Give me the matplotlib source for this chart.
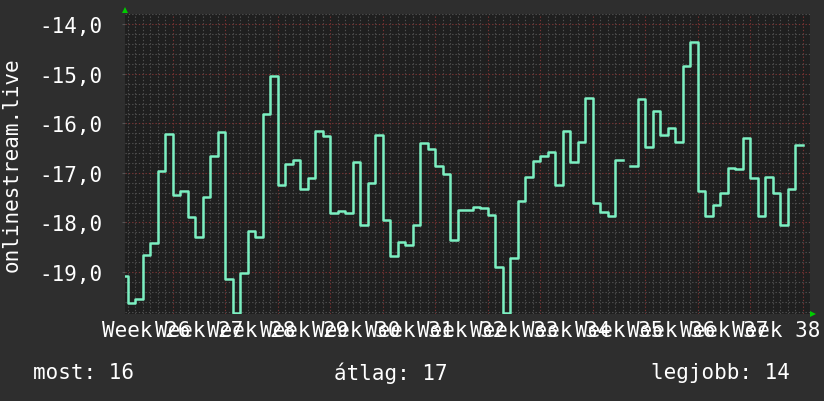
import matplotlib
matplotlib.use("Agg")
import matplotlib.pyplot as plt
import matplotlib.transforms as mtransforms
import numpy as np

# napi értékek, a 26. hét hétfőjétől (nan = hiányzó adat)
values = [-19.08, -19.62, -19.55, -18.65, -18.42, -16.96, -16.21,
          -17.45, -17.36, -17.90, -18.30, -17.48, -16.66, -16.17,
          -19.14, -19.82, -19.03, -18.17, -18.29, -15.82, -15.05,
          -17.25, -16.82, -16.74, -17.33, -17.10, -16.15, -16.25,
          -17.81, -17.77, -17.81, -16.77, -18.05, -17.21, -16.23,
          -17.95, -18.67, -18.40, -18.45, -18.05, -16.40, -16.52,
          -16.86, -17.02, -18.36, -17.75, -17.75, -17.69, -17.71,
          -17.85, -18.91, -19.82, -18.71, -17.57, -17.08, -16.75,
          -16.65, -16.57, -17.25, -16.15, -16.77, -16.37, -15.48,
          -17.60, -17.78, -17.87, -16.73, np.nan, -16.86, -15.50,
          -16.47, -15.74, -16.24, -16.09, -16.37, -14.84, -14.35,
          -17.37, -17.87, -17.64, -17.40, -16.90, -16.92, -16.29,
          -17.10, -17.87, -17.08, -17.40, -18.05, -17.33, -16.43]
weeks = list(range(26, 39))
ytick_vals = [-19.0, -18.0, -17.0, -16.0, -15.0, -14.0]
ylabel = "onlinestream.live"
legend_names = ["most", "átlag", "legjobb"]
legend_vals = [16, 17, 14]

BG = "#2e2e2e"
PLOT_BG = "#1f1f1f"
LINE = "#7cf0c2"
FONT = "DejaVu Sans Mono"

fig = plt.figure(figsize=(8.24, 4.02), dpi=100, facecolor=BG)
ax = fig.add_axes([125 / 824, 1 - 315 / 402, (809.5 - 125) / 824, 300 / 402])
ax.set_facecolor(PLOT_BG)

days = np.arange(len(values) + 1)
vals = np.array(values + [values[-1]])
ax.step(days, vals, where="post", color=LINE, lw=1.8, zorder=3)

ax.set_xlim(0.64, 91.88)
ax.set_ylim(-19.85, -13.79)

# rács
for d in range(0, 93):
    if d % 7 == 0:
        continue
    ax.axvline(d, color="#505050", lw=0.8, ls=(0, (1.2, 1.8)), zorder=1)
for w in range(0, 14):
    ax.axvline(7 * w, color="#7a3434", lw=0.8, ls=(0, (1.2, 1.8)), zorder=1)
for y in np.arange(-19.8, -13.7, 0.2):
    if abs(y - round(y)) < 1e-6:
        ax.axhline(y, color="#7a3434", lw=0.8, ls=(0, (1.2, 1.8)), zorder=1)
    else:
        ax.axhline(y, color="#505050", lw=0.8, ls=(0, (1.2, 1.8)), zorder=1)

for s in ax.spines.values():
    s.set_visible(False)

ax.set_yticks(ytick_vals)
ax.set_yticklabels([f"{v:.1f}".replace(".", ",") for v in ytick_vals],
                   fontfamily=FONT, fontsize=15, color="white")
ax.tick_params(axis="y", length=2, color="#555555", pad=14)
ax.set_xticks([])

trans = mtransforms.blended_transform_factory(ax.transData, ax.transAxes)
for i, w in enumerate(weeks):
    ax.text(7 * i + 3.5, -0.052, f"Week {w}", transform=trans, ha="center",
            va="center", fontfamily=FONT, fontsize=15, color="white",
            clip_on=False)

fig.text(12 / 824, 1 - 165 / 402, ylabel, rotation=90, ha="center",
         va="center", fontfamily=FONT, fontsize=15, color="white")

lx = [33, 334, 651]
for name, v, x in zip(legend_names, legend_vals, lx):
    fig.text(x / 824, 1 - 373 / 402, f"{name}: {v}", ha="left", va="center",
             fontfamily=FONT, fontsize=15, color="white")

# zöld nyilak a tengelyek végén
ax.plot([0.0], [1.012], marker="^", color="#00cc00", ms=5, mew=0,
        transform=ax.transAxes, clip_on=False)
ax.plot([1.005], [0.0], marker=">", color="#00cc00", ms=5, mew=0,
        transform=ax.transAxes, clip_on=False)

fig.savefig("out.png", dpi=100, facecolor=BG)
